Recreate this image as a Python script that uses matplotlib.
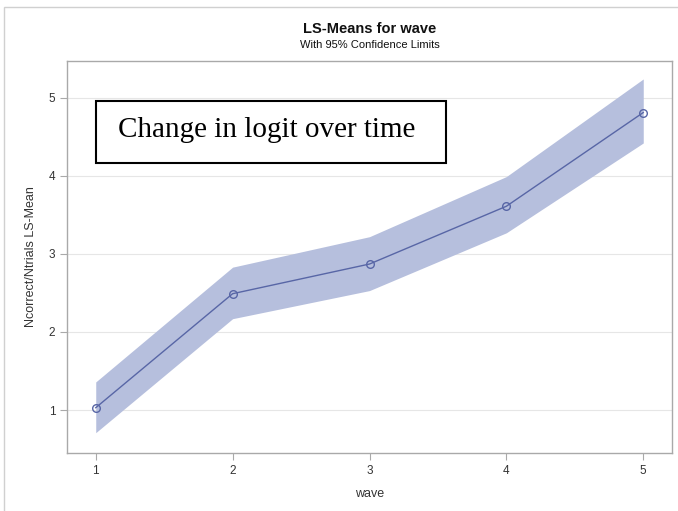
import matplotlib
matplotlib.use("Agg")
import matplotlib.pyplot as plt
from matplotlib.patches import Rectangle

plt.rcParams['font.family'] = ['Liberation Sans', 'DejaVu Sans']

waves = [1, 2, 3, 4, 5]
lsmeans = [1.03, 2.49, 2.87, 3.61, 4.81]
lower = [0.71, 2.17, 2.53, 3.27, 4.42]
upper = [1.36, 2.83, 3.22, 3.99, 5.24]
yticks = [1, 2, 3, 4, 5]

W, H = 678, 511
fig = plt.figure(figsize=(W / 100, H / 100), dpi=100)
ax = fig.add_axes([67 / W, 1 - 453 / H, (672 - 67) / W, (453 - 61) / H])

band = "#b6bfdd"
line = "#5866a6"
ax.fill_between(waves, lower, upper, color=band, lw=0, zorder=2)
ax.plot(waves, lsmeans, color=line, lw=1.0, marker="o", ms=5.5,
        mfc="none", mec=line, mew=1.0, zorder=3)

ax.set_xlim(0.79, 5.21)
ax.set_ylim(0.45, 5.47)
ax.set_xticks(waves)
ax.set_yticks(yticks)
ax.grid(axis="y", color="#e6e6e6", lw=0.8, zorder=0)
ax.set_axisbelow(True)
for s in ax.spines.values():
    s.set_color("#a9a9a9")
    s.set_linewidth(1.0)
ax.tick_params(colors="#a9a9a9", labelcolor="#333333", labelsize=8.5, length=5)
ax.set_xlabel("wave", fontsize=9, color="#333333", labelpad=8)
ax.set_ylabel("Ncorrect/Ntrials LS-Mean", fontsize=9, color="#333333", labelpad=8)

fig.text(0.5 * (67 + 672) / W, 1 - 29 / H, "LS-Means for wave", ha="center",
         va="center", fontsize=10.5, fontweight="bold", color="#111111")
fig.text(0.5 * (67 + 672) / W, 1 - 45 / H, "With 95% Confidence Limits", ha="center",
         va="center", fontsize=8, color="#111111")

box = Rectangle((1.0, 4.17), 2.56, 0.79, transform=ax.transData, fill=True,
                facecolor="white", edgecolor="black", lw=1.5, zorder=5)
ax.add_patch(box)
ax.text(1.0 + 2.56 / 2 - 0.03, 4.17 + 0.79 / 2 + 0.02, "Change in logit over time",
        ha="center", va="center", fontsize=21, family="Liberation Serif",
        color="black", zorder=6)

fig.patches.append(Rectangle((4 / W, -0.01), 1.0, 1 - 7 / H + 0.01,
                             transform=fig.transFigure, fill=False,
                             edgecolor="#d0d0d0", lw=1.0))

fig.savefig("out.png", dpi=100)
